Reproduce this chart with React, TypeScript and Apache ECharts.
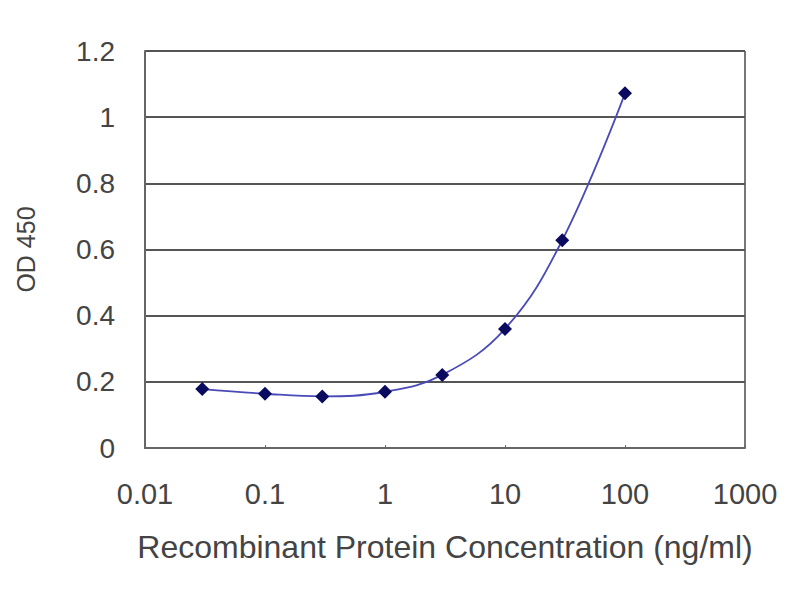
import React, { useEffect, useRef } from "react";
import * as echarts from "echarts";

const concentrations = [0.03, 0.1, 0.3, 1, 3, 10, 30, 100];
const odValues = [0.178, 0.164, 0.156, 0.17, 0.221, 0.36, 0.628, 1.072];
const xTickLabels = ["0.01", "0.1", "1", "10", "100", "1000"];
const xAxisTitle = "Recombinant Protein Concentration (ng/ml)";
const yAxisTitle = "OD 450";

export default function App() {
  const ref = useRef<HTMLDivElement>(null);
  useEffect(() => {
    document.body.style.margin = "0";
    const chart = echarts.init(ref.current!, null, { renderer: "svg" });
    const font = "Liberation Sans, Arial, sans-serif";
    chart.setOption({
      animation: false,
      backgroundColor: "#ffffff",
      grid: { left: 145, right: 55, top: 51, bottom: 152 },
      xAxis: {
        type: "log",
        logBase: 10,
        min: 0.01,
        max: 1000,
        name: xAxisTitle,
        nameLocation: "middle",
        nameGap: 83,
        nameTextStyle: { fontFamily: font, fontSize: 32, color: "#444" },
        axisLine: { show: true, lineStyle: { color: "#666", width: 2 } },
        axisTick: { show: true, inside: true, length: 3, lineStyle: { color: "#666" } },
        minorTick: { show: false },
        splitLine: { show: false },
        axisLabel: {
          fontFamily: font,
          fontSize: 29,
          color: "#444",
          margin: 31,
          formatter: (v: number) => {
            const i = Math.round(Math.log10(v)) + 2;
            return xTickLabels[i] ?? String(v);
          },
        },
      },
      yAxis: {
        type: "value",
        min: 0,
        max: 1.2,
        interval: 0.2,
        name: yAxisTitle,
        nameLocation: "middle",
        nameGap: 107,
        nameRotate: 90,
        nameTextStyle: { fontFamily: font, fontSize: 25, color: "#444" },
        axisLine: { show: true, lineStyle: { color: "#666", width: 2 } },
        axisTick: { show: false },
        splitLine: { show: true, lineStyle: { color: "#555", width: 2 } },
        axisLabel: {
          fontFamily: font,
          fontSize: 28,
          color: "#444",
          margin: 30,
          formatter: (v: number) => String(Math.round(v * 10) / 10),
        },
      },
      graphic: [
        {
          type: "line",
          shape: { x1: 745, y1: 51, x2: 745, y2: 448 },
          style: { stroke: "#777", lineWidth: 2 },
        },
      ],
      series: [
        {
          type: "line",
          data: concentrations.map((c, i) => [c, odValues[i]]),
          smooth: 0.4,
          symbol: "diamond",
          symbolSize: 14,
          lineStyle: { color: "#4a4ab8", width: 1.8 },
          itemStyle: { color: "#0a0a5e" },
        },
      ],
    });
    return () => chart.dispose();
  }, []);
  return <div ref={ref} style={{ width: 800, height: 600 }} />;
}
